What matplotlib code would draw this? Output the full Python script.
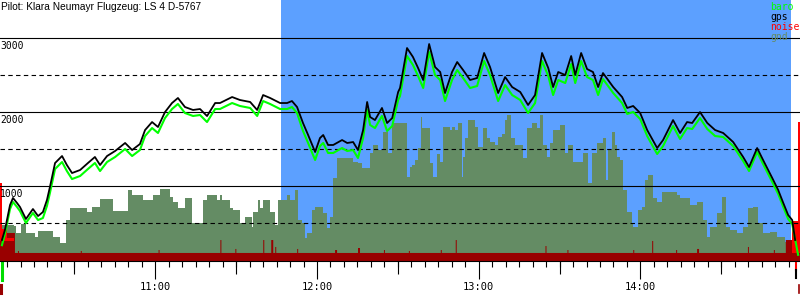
import numpy as np
import matplotlib
matplotlib.use("Agg")
import matplotlib.pyplot as plt

# time in minutes after 10:00, altitude in metres
t_start = 2.38
t_end = 299.2
task_start = 106.7
task_end = 295.9

gps_t = [3.1, 4.2, 6.1, 7.2, 8.7, 9.8, 12.0, 14.6, 16.5, 18.3, 19.8, 20.9, 22.8, 25.4, 27.2, 29.1,
         32.1, 35.0, 37.6, 39.5, 42.1, 45.1, 48.8, 51.4, 54.3, 56.2, 58.8, 61.0, 63.6, 66.2, 68.4,
         71.0, 74.0, 76.6, 79.2, 82.2, 84.0, 88.5, 91.4, 95.2, 97.8, 100.0, 102.6, 106.3, 108.9,
         110.7, 112.6, 114.8, 116.7, 119.3, 121.1, 122.3, 124.1, 126.0, 129.3, 131.2, 133.4, 135.2,
         137.1, 138.6, 139.7, 141.5, 144.1, 146.0, 147.9, 150.1, 150.8, 153.4, 155.6, 157.5, 159.4,
         161.6, 163.8, 165.7, 167.5, 170.1, 172.0, 174.2, 176.8, 179.4, 182.0, 184.2, 187.2, 189.8,
         192.4, 195.4, 198.3, 200.9, 203.5, 205.8, 207.6, 209.5, 212.1, 214.3, 215.8, 218.0, 220.2,
         222.4, 224.3, 226.1, 229.9, 233.2, 235.1, 237.3, 239.9, 242.5, 246.2, 248.4, 252.1, 254.7,
         257.3, 259.2, 262.1, 264.8, 267.7, 270.7, 274.4, 278.1, 280.3, 283.3, 285.5, 288.9, 291.1,
         293.0, 294.8, 296.3, 297.4]
gps_alt = [270, 405, 743, 838, 770, 716, 554, 689, 594, 648, 811, 986, 1310, 1405, 1283, 1175,
           1216, 1310, 1392, 1283, 1405, 1473, 1581, 1486, 1567, 1756, 1864, 1797, 1999, 2121, 2189,
           2067, 2027, 2040, 1945, 2121, 2121, 2202, 2162, 2135, 2027, 2229, 2189, 2121, 2121,
           2148, 2067, 1851, 1689, 1459, 1648, 1689, 1554, 1554, 1621, 1581, 1594, 1486,
           1756, 2135, 1932, 1891, 2054, 1851, 1918, 2270, 2324, 2864, 2743, 2594, 2432,
           2918, 2607, 2540, 2256, 2540, 2675, 2567, 2432, 2459, 2797, 2607, 2256, 2472,
           2337, 2270, 2094, 2229, 2797, 2594, 2337, 2540, 2499, 2756, 2499, 2797, 2580,
           2540, 2337, 2526, 2337, 2202, 2054, 2081, 1986, 1756, 1513, 1621, 1891, 1716,
           1864, 1851, 1999, 1851, 1756, 1716, 1594, 1392, 1256, 1513, 1351, 1108, 946,
           770, 608, 540, 270]

baro_t = gps_t[:-1] + [298.5]
baro_alt = [200, 351, 689, 784, 716, 662, 500, 635, 540, 567, 730, 905, 1229, 1324, 1202, 1094,
            1135, 1229, 1311, 1202, 1324, 1392, 1500, 1405, 1486, 1675, 1783, 1716, 1918, 2040, 2108,
            1986, 1946, 1959, 1864, 2040, 2040, 2121, 2081, 2054, 1946, 2148, 2108, 2040, 2040,
            2067, 1986, 1743, 1581, 1351, 1540, 1581, 1446, 1446, 1513, 1473, 1486, 1378,
            1648, 2027, 1824, 1783, 1946, 1743, 1810, 2162, 2216, 2756, 2635, 2486, 2324,
            2810, 2499, 2432, 2148, 2432, 2567, 2459, 2324, 2351, 2689, 2499, 2148, 2364,
            2229, 2162, 1986, 2121, 2689, 2486, 2229, 2432, 2391, 2648, 2391, 2689, 2472,
            2432, 2229, 2445, 2256, 2121, 1973, 2000, 1905, 1675, 1432, 1540, 1810, 1635,
            1783, 1770, 1918, 1770, 1675, 1662, 1540, 1338, 1202, 1459, 1297, 1054, 892,
            716, 554, 486, 70]

gnd_t = [2.38, 7.6, 8.3, 10.2, 12.0, 15.4, 16.5, 22.1, 24.6, 26.9, 28.4, 34.7, 36.5, 39.5, 44.3,
         49.9, 51.4, 55.5, 59.2, 61.8, 65.5, 66.6, 68.4, 71.0, 73.6, 77.7, 79.2, 82.9, 84.0, 84.8,
         87.7, 88.8, 91.4, 93.3, 95.9, 96.3, 98.1, 98.9, 100.0, 102.6, 104.4, 105.5, 108.9, 110.0,
         111.9, 113.0, 114.5, 115.6, 116.3, 118.2, 119.3, 122.3, 123.7, 124.8, 126.0, 127.4, 133.4,
         135.2, 136.7, 139.7, 140.8, 142.7, 143.4, 144.5, 146.4, 147.8, 153.4, 154.5, 155.3, 156.4,
         157.5, 158.6, 159.0, 162.0, 163.1, 164.6, 165.7, 166.8, 169.4, 170.1, 171.2, 172.3, 173.8,
         174.2, 174.9, 176.1, 178.7, 179.8, 181.6, 183.1, 184.2, 186.1, 187.2, 188.7, 189.8, 190.5,
         192.0, 193.5, 196.5, 198.0, 199.8, 201.7, 202.8, 203.9, 205.4, 206.5, 207.6, 210.2, 212.1,
         213.2, 215.0, 218.7, 220.6, 222.1, 223.9, 226.1, 227.3, 228.0, 229.5, 230.6, 231.4, 232.5,
         233.6, 235.1, 236.9, 237.3, 239.1, 240.6, 241.7, 242.9, 244.7, 246.2, 248.1, 253.6, 254.7,
         258.5, 261.0, 263.3, 264.8, 265.9, 268.5, 270.3, 271.8, 273.3, 275.9, 278.1, 280.0, 281.8,
         283.7, 285.5, 288.1, 290.7, 293.7, 296.3]
gnd_alt = [470, 459, 365, 486, 365, 311, 392, 311, 230, 540, 703, 648, 716, 824, 662,
           946, 878, 811, 878, 959, 851, 784, 703, 838, 500, 811, 878, 811, 878, 811,
           703, 675, 500, 581, 446, 648, 811, 703, 811, 648, 473, 811, 878, 811,
           946, 540, 500, 297, 365, 675, 716, 635, 432, 581, 1108, 1378, 1324,
           1310, 1243, 1446, 1554, 1486, 1486, 1729, 1446, 1851, 1121, 1256, 1283, 1351,
           1513, 1932, 1783, 1310, 1121, 1432, 1324, 1797, 1756, 1797, 1756, 1851, 1121,
           1392, 1648, 1891, 1797, 1527, 1783, 1648, 1594, 1554, 1662, 1702, 1891, 1959,
           1648, 1554, 1378, 1783, 1851, 1783, 1959, 1554, 1392, 1581, 1756, 1824, 1446,
           1554, 1324, 1446, 1040, 1446, 1581, 1648, 1081, 1486, 1729, 1554, 1392, 1351,
           946, 648, 500, 446, 675, 716, 1081, 1148, 838, 784, 919, 878, 838,
           743, 784, 540, 311, 446, 635, 851, 446, 405, 365, 446, 703, 716,
           500, 365, 378, 311, 243, 200]

noise_base = 95
noise_spike_t = [2.38, 8.7, 32.1, 61.0, 84.0, 89.6, 100.0, 103.0, 104.4, 112.6, 126.7, 135.2,
                 144.5, 153.8, 165.7, 171.2, 204.6, 212.8, 237.3, 244.0, 252.9, 261.0, 279.6,
                 289.3, 293.7]
noise_spike_w = [5.2, 0.4, 0.4, 0.4, 0.4, 0.4, 0.4, 0.4, 0.4, 0.4, 0.4, 0.4,
                 0.4, 0.4, 0.4, 0.4, 0.4, 0.4, 0.4, 0.4, 0.4, 0.4, 0.4,
                 0.4, 2.6]
noise_spike_v = [365, 122, 122, 135, 270, 149, 270, 270, 176, 149, 135, 162,
                 135, 122, 135, 270, 189, 135, 135, 257, 135, 149, 176,
                 135, 270]

# loud noise at take-off and landing
loud_t = [2.38, 3.3, 5.0, 7.6]
loud_v = [1040, 420, 300, 0]
land_t = [296.3, 298.4, 299.2]
land_v = [527, 1864, 1864]

grid_solid = [1000, 2000, 3000]
grid_dashed = [500, 1500, 2500]
hour_ticks = [60, 120, 180, 240]
hour_labels = ['11:00', '12:00', '13:00', '14:00']
legend_names = ['baro', 'gps', 'noise', 'gnd']
legend_colors = ['#00ff00', '#000000', '#ff0000', '#648c64']

BLUE = '#5ca0ff'
GND = '#648c64'
DARKRED = '#990000'
y_bot = -13.5
mono = 'DejaVu Sans Mono'

fig = plt.figure(figsize=(8, 3), dpi=100)
ax = fig.add_axes([0, 39 / 300, 1, 261 / 300])
ax.set_xlim(t_start, t_end)
ax.set_ylim(y_bot, 3513)

ax.axvspan(task_start, task_end, color=BLUE, lw=0, zorder=0)

gt = np.array(gnd_t + [t_end])
gv = np.array(gnd_alt + [gnd_alt[-1]])
ax.fill_between(gt, y_bot, gv, step='post', color=GND, lw=0, zorder=1)

grid = np.arange(t_start, t_end + 0.37, 0.37)
nv = np.full(grid.shape, float(noise_base))
for t, w, v in zip(noise_spike_t, noise_spike_w, noise_spike_v):
    nv[(grid >= t) & (grid < t + w)] = v
ax.fill_between(grid, y_bot, nv, step='post', color=DARKRED, lw=0, zorder=2)

ax.fill_between(loud_t, 250, loud_v, step='post', color='#ff0000', lw=0, zorder=2)
ax.fill_between(land_t, 95, land_v, step='post', color='#ff0000', lw=0, zorder=2)

for y in grid_solid:
    ax.axhline(y, color='black', lw=0.8, zorder=3)
for y in grid_dashed:
    ax.axhline(y, color='black', lw=0.8, ls=(0, (4, 3)), zorder=3)

ax.plot(baro_t, baro_alt, color='#00ff00', lw=1.5, zorder=4)
ax.plot(gps_t, gps_alt, color='black', lw=1.3, zorder=5)

for y in grid_solid:
    ax.text(t_start, y - 35, str(y), va='top', ha='left', fontsize=7,
            family=mono, zorder=6)

# take-off / landing markers below the axis
ax.plot([3.3, 3.3], [-27, -270], color='#00dd00', lw=2.2, clip_on=False)
ax.plot([2.9, 2.9], [-338, -446], color=DARKRED, lw=2.2, clip_on=False)
ax.plot([297.6, 297.6], [-27, -135], color='#ff0000', lw=1.5, clip_on=False)
ax.plot([297.6, 297.6], [-135, -243], color='black', lw=1.5, clip_on=False)
ax.plot([298.9, 298.9], [-338, -446], color=DARKRED, lw=1.2, clip_on=False)

for s in ['left', 'top', 'right']:
    ax.spines[s].set_visible(False)
ax.spines['bottom'].set_linewidth(0.8)
ax.set_yticks([])
ax.set_xticks(hour_ticks, labels=hour_labels)
ax.set_xticks(np.arange(5, 300, 5), minor=True)
ax.tick_params(axis='x', which='major', length=13, width=0.8, pad=2,
               labelsize=7.5, labelfontfamily=mono)
ax.tick_params(axis='x', which='minor', length=4.5, width=0.8)
sec = ax.secondary_xaxis('bottom')
sec.set_xticks(np.arange(30, 300, 60))
sec.tick_params(length=9, width=0.8, labelbottom=False)
sec.spines['bottom'].set_visible(False)

fig.text(1 / 800, 1 - 2 / 300, 'Pilot: Klara Neumayr Flugzeug: LS 4 D-5767',
         va='top', ha='left', fontsize=7.3, family='Liberation Sans')
for i, (name, c) in enumerate(zip(legend_names, legend_colors)):
    fig.text(770 / 800, 1 - (10.5 + 10 * i) / 300, name, va='baseline', ha='left',
             fontsize=7, family=mono, color=c)

fig.savefig('out.png', dpi=100)
